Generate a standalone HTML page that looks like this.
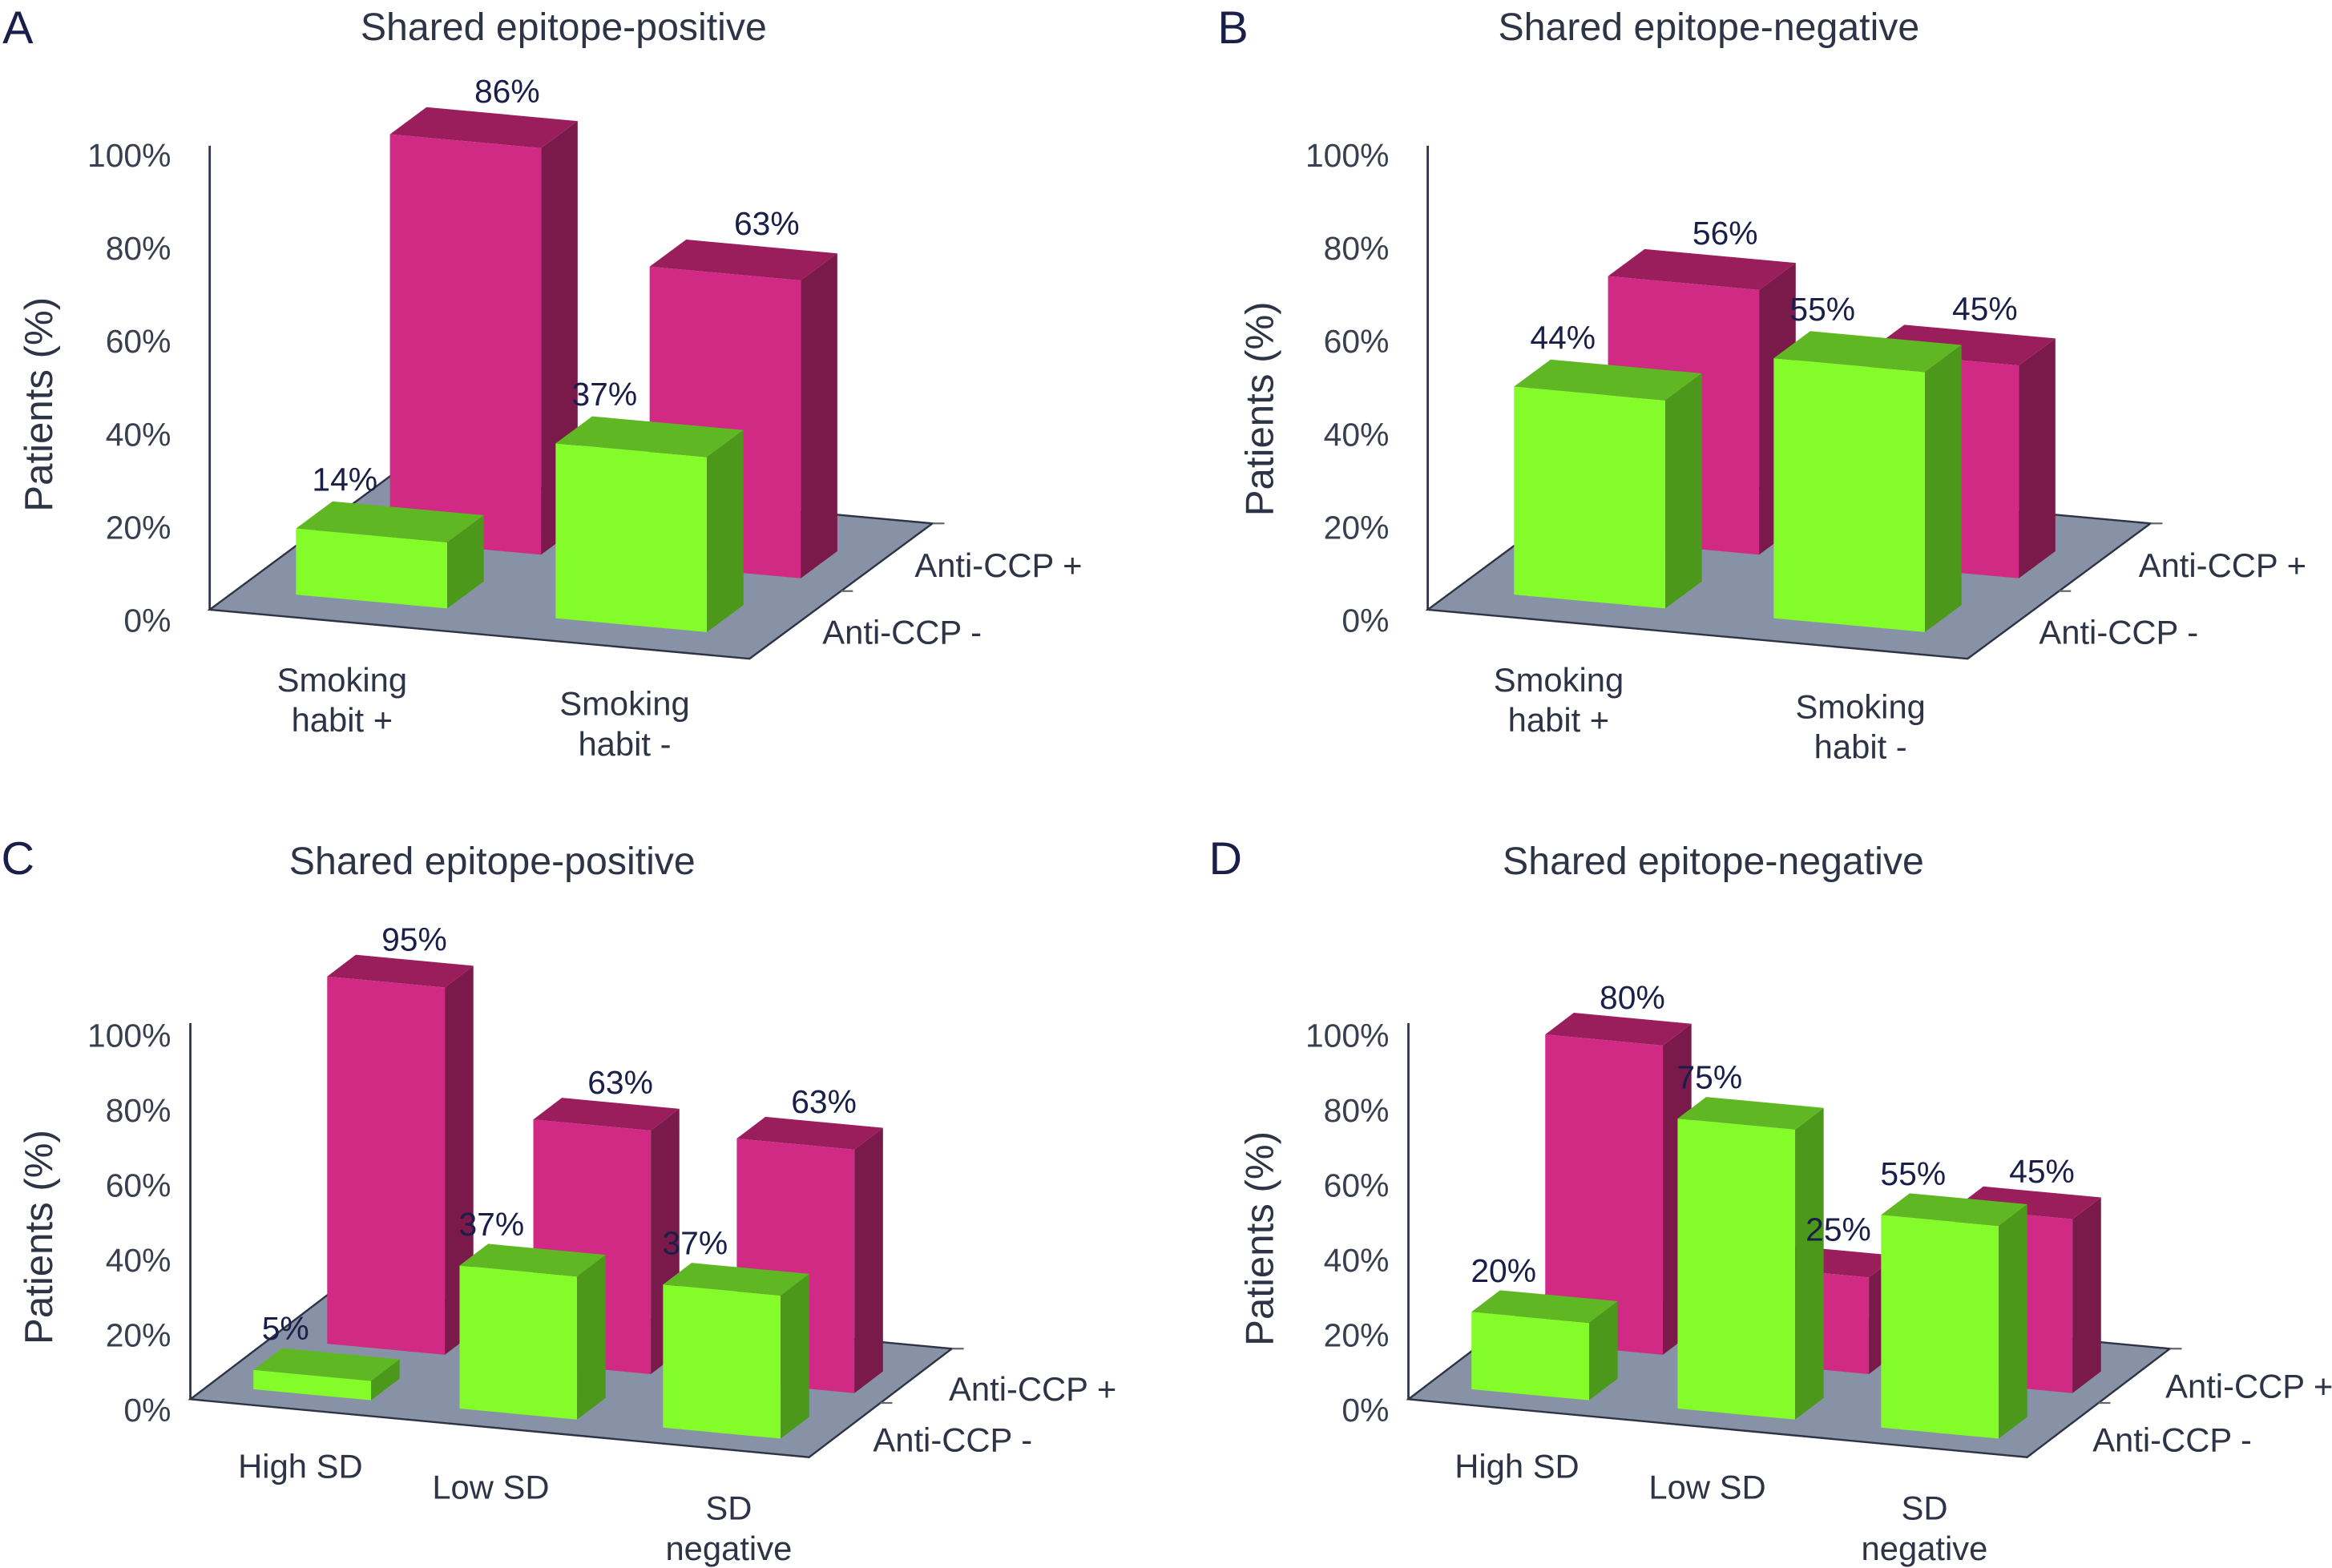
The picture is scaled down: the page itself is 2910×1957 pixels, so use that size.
<!DOCTYPE html>
<html><head><meta charset="utf-8">
<style>
html,body{margin:0;padding:0;background:#fff;}
svg{display:block;}
text{font-family:"Liberation Sans",Arial,sans-serif;}
</style></head>
<body>
<svg id="fig" xmlns="http://www.w3.org/2000/svg" width="2910" height="1957" viewBox="0 0 1568 1054.5" preserveAspectRatio="none"></svg>
<script>
// ---- data ----
const panelLetters = ["A","B","C","D"];
const panelTitles = ["Shared epitope-positive","Shared epitope-negative","Shared epitope-positive","Shared epitope-negative"];
const smokingCategories = [["Smoking","habit +"],["Smoking","habit -"]];
const sdCategories = [["High SD"],["Low SD"],["SD","negative"]];
const seriesNames = ["Anti-CCP -","Anti-CCP +"];
const yTicks = [0,20,40,60,80,100];
const aNeg = [14,37];   const aPos = [86,63];
const bNeg = [44,55];   const bPos = [56,45];
const cNeg = [5,37,37]; const cPos = [95,63,63];
const dNeg = [20,75,55]; const dPos = [80,25,45];

const NS="http://www.w3.org/2000/svg";
const svg=document.getElementById('fig');
function el(tag,attrs,parent){const e=document.createElementNS(NS,tag);for(const k in attrs)e.setAttribute(k,attrs[k]);(parent||svg).appendChild(e);return e;}
function txt(s,x,y,size,anchor,fill,parent){const t=el('text',{x:x,y:y,'font-size':size,'text-anchor':anchor,fill:fill},parent);t.textContent=s;return t;}

const layoutAB={x0:141,y0:410,F:[363,33],D:[123,-91],S:3.18,rowV:[0.15,0.56],rowShift:[0,0.035],groups:[0.109,0.59],w:0.28,dep:0.2,axisTop:98,tick0:417,tickStep:3.13,tickX:-26,
  gLab:[-18,-30],mLab:[28,-26]};
const layoutCD={x0:128,y0:941,F:[416,39],D:[96,-73],S:2.6,rowV:[0.13,0.56],rowShift:[0,0.02],groups:[0.072,0.405,0.734],w:0.19,dep:0.2,axisTop:688,tick0:948,tickStep:2.52,tickX:-13,
  gLab:[-18,-24],mLab:[19,-21]};

const panels=[
 {L:layoutAB,dx:0,neg:aNeg,pos:aPos,cats:smokingCategories,letter:[12,18],title:[379,18],ytitle:[26,272],
  catPos:[[230,457],[420,473]],ccp:[[553,425],[615,380]]},
 {L:layoutAB,dx:819,neg:bNeg,pos:bPos,cats:smokingCategories,letter:[829,18],title:[1149,18],ytitle:[847,275],
  catPos:[[1048,457],[1251,475]],ccp:[[1371,425],[1438,380]]},
 {L:layoutCD,dx:0,neg:cNeg,pos:cPos,cats:sdCategories,letter:[12,577],title:[331,579],ytitle:[26,832],
  catPos:[[202,986],[330,1000],[490,1014]],ccp:[[587,968],[638,934]]},
 {L:layoutCD,dx:819,neg:dNeg,pos:dPos,cats:sdCategories,letter:[824,577],title:[1152,579],ytitle:[847,833],
  catPos:[[1020,986],[1148,1000],[1294,1014]],ccp:[[1407,968],[1456,932]]}
];
const TXT="#2e3446";
const colors=[{front:"#84fc2a",side:"#4b981a",top:"#5fb823"},{front:"#d02a85",side:"#7a1a4a",top:"#9a1d5c"}];

panels.forEach((p,pi)=>{
  const L=p.L;
  const g=el('g',{});
  
  
  const X0=L.x0+p.dx, Y0=L.y0;
  function pt(u,v,h){return [X0+u*L.F[0]+v*L.D[0], Y0+u*L.F[1]+v*L.D[1]-h*L.S];}
  let t=txt(panelLetters[pi],p.letter[0],p.letter[1]+11,31,'middle','#1a1f4a',g);
  
  t=txt(panelTitles[pi],p.title[0],p.title[1]+9,26,'middle',TXT,g);
  
  t=txt("Patients (%)",0,0,26.5,'middle',TXT,g);
  t.setAttribute('transform','translate('+(p.ytitle[0]+9)+','+p.ytitle[1]+') rotate(-90)');
  
  const fpts=[pt(0,0,0),pt(1,0,0),pt(1,1,0),pt(0,1,0)];
  const fl=el('polygon',{points:fpts.map(q=>q[0].toFixed(1)+','+q[1].toFixed(1)).join(' '),fill:"#8892a6",stroke:TXT,'stroke-width':1.3},g);
  
  const ax=el('line',{x1:X0,y1:Y0,x2:X0,y2:L.axisTop,stroke:TXT,'stroke-width':1.5},g);
  
  [1,0.5].forEach(v=>{const q=pt(1,v,0);const tk=el('line',{x1:q[0],y1:q[1],x2:q[0]+8,y2:q[1],stroke:'#666','stroke-width':1.2},g);
    });
  yTicks.forEach(v=>{const tl=txt(v+"%",X0+L.tickX,L.tick0-v*L.tickStep+8,22,'end','#3a3f4f',g);
    });
  const labels=[];
  [[1,p.pos],[0,p.neg]].forEach(([row,vals])=>{
    const c=colors[row];
    vals.forEach((val,i)=>{
      const u0=L.groups[i]+L.rowShift[row], u1=u0+L.w, v0=L.rowV[row], v1=v0+L.dep;
      const bg=el('g',{},g);
      
      
      const mk=(pts,fill)=>{el('polygon',{points:pts.map(q=>q[0].toFixed(1)+','+q[1].toFixed(1)).join(' '),fill:fill},bg);};
      mk([pt(u0,v0,0),pt(u1,v0,0),pt(u1,v0,val),pt(u0,v0,val)],c.front);
      mk([pt(u1,v0,0),pt(u1,v1,0),pt(u1,v1,val),pt(u1,v0,val)],c.side);
      mk([pt(u0,v0,val),pt(u1,v0,val),pt(u1,v1,val),pt(u0,v1,val)],c.top);
      const ctr=pt((u0+u1)/2,v0,val);
      const off=row?L.mLab:L.gLab;
      labels.push([val+"%",ctr[0]+off[0],ctr[1]+off[1]]);
    });
  });
  labels.forEach(l=>{const vl=txt(l[0],l[1],l[2],22,'middle','#1a1f4a',g);
    });
  p.cats.forEach((lines,i)=>{
    lines.forEach((s,j)=>{const cl=txt(s,p.catPos[i][0],p.catPos[i][1]+8+j*27,22.5,'middle',TXT,g);
      });
  });
  seriesNames.forEach((s,i)=>{const sl=txt(s,p.ccp[i][0],p.ccp[i][1]+8,22.5,'start',TXT,g);
    });
});
</script>
</body></html>
